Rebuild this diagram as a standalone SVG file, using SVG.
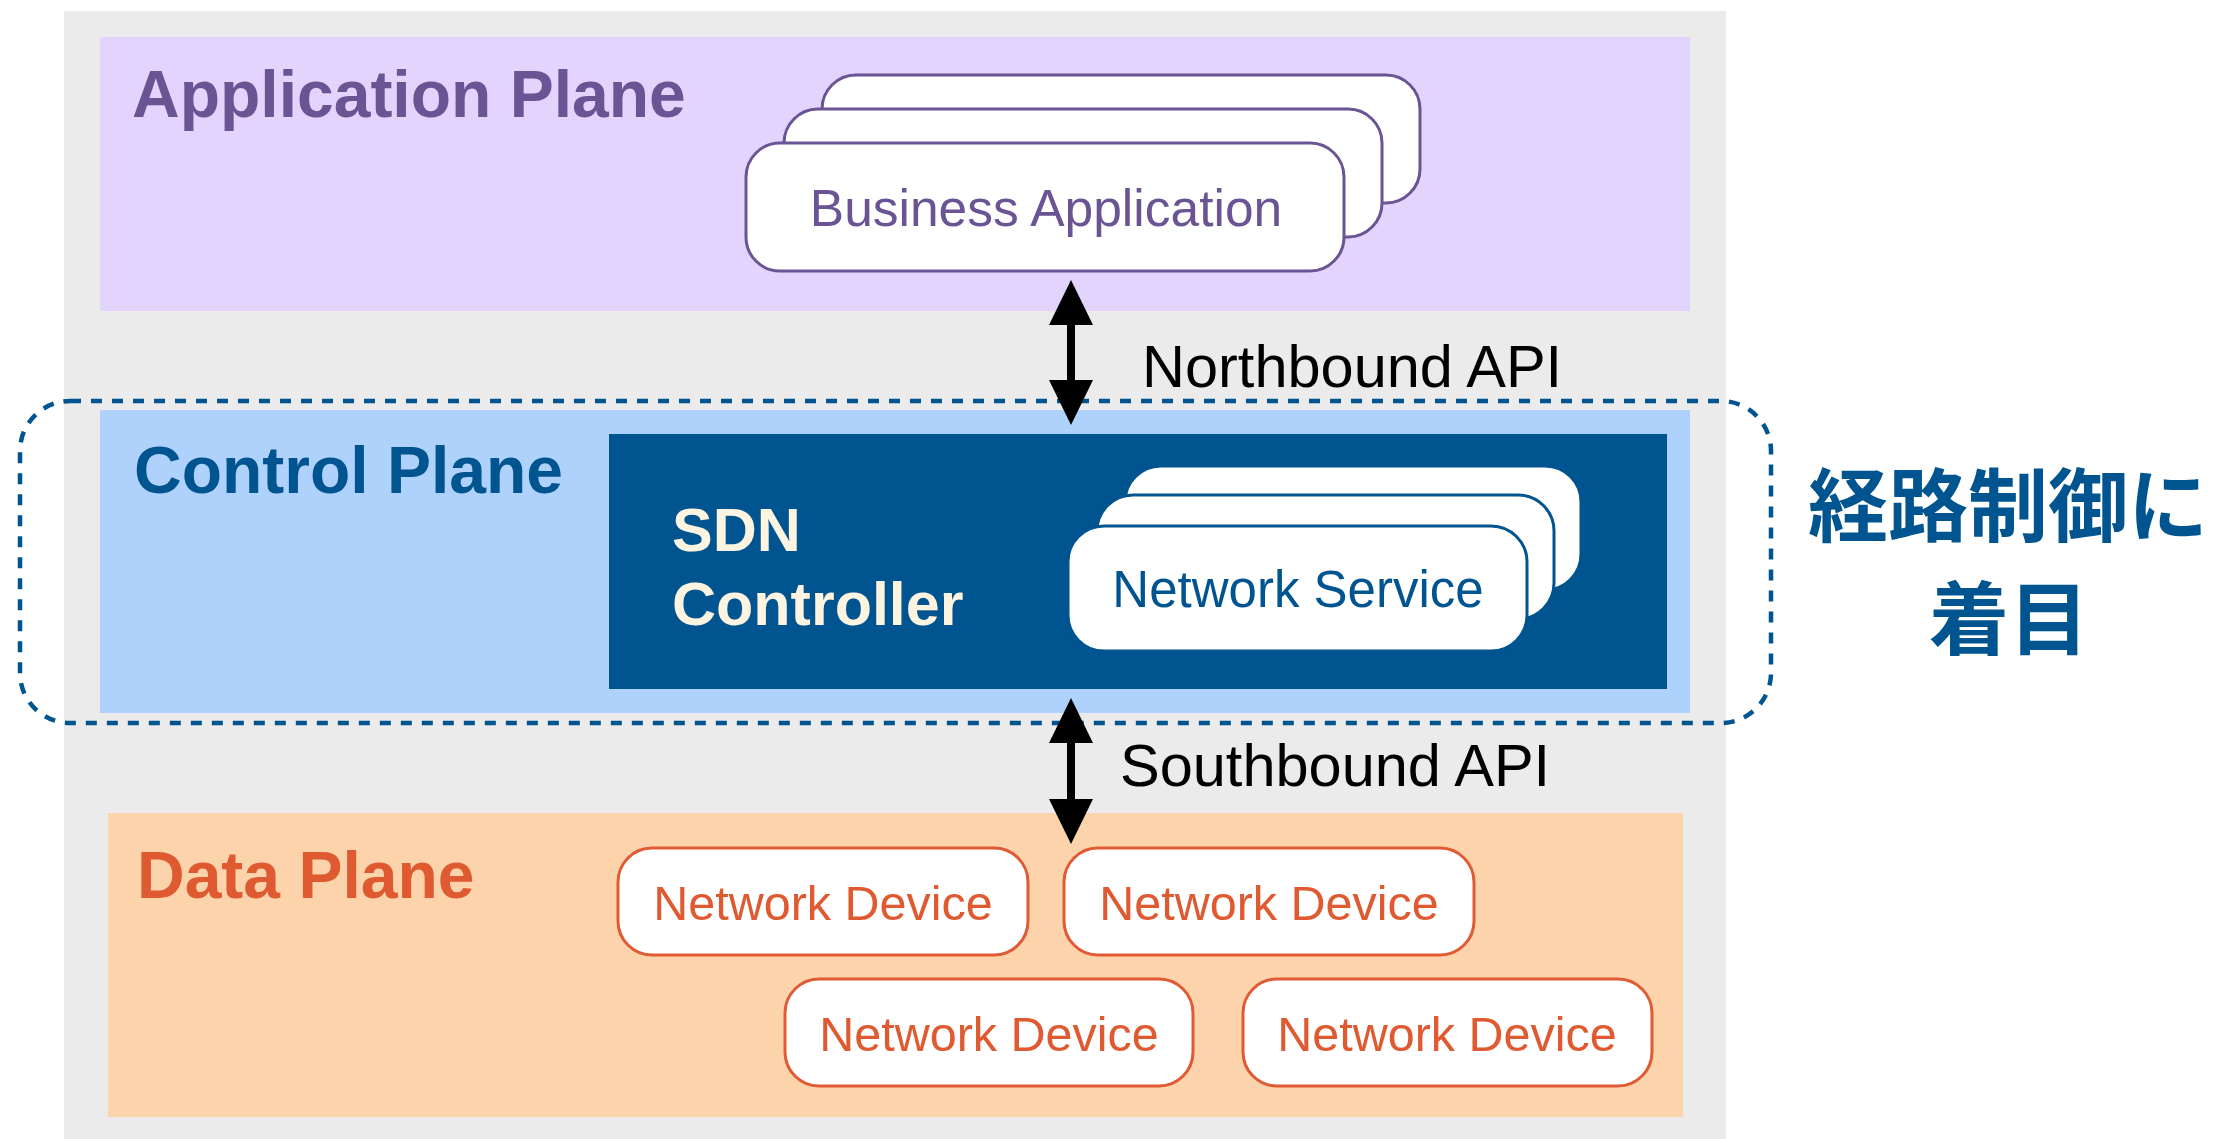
<svg xmlns="http://www.w3.org/2000/svg" width="2231" height="1139" viewBox="0 0 2231 1139">
  <style>
    .title { font-family: "Liberation Sans", Arial, sans-serif; font-weight: bold; font-size: 66px; }
    .label { font-family: "Liberation Sans", Arial, sans-serif; }
    .api { font-family: "Liberation Sans", Arial, sans-serif; font-size: 59.5px; fill: #000; }
    .app-box { fill: #fff; stroke: #6a5494; stroke-width: 3; }
    .svc-box { fill: #fff; stroke: #00548f; stroke-width: 3; }
    .dev-box { fill: #fff; stroke: #e05a33; stroke-width: 3; }
    .dev-text { font-family: "Liberation Sans", Arial, sans-serif; font-size: 48.5px; fill: #df5a31; text-anchor: middle; }
    .focus { fill: none; stroke: #00548f; stroke-width: 4.5; stroke-dasharray: 11 10; }
    .api-arrow { stroke: #000; stroke-width: 8; fill: none; marker-start: url(#head); marker-end: url(#head); }
    .note { font-family: "Noto Sans CJK JP", "Noto Sans CJK SC", sans-serif; font-weight: bold; font-size: 80px; fill: #00548f; text-anchor: middle; }
  </style>
  <defs>
    <marker id="head" markerUnits="userSpaceOnUse" markerWidth="45" markerHeight="44" viewBox="0 0 45 44" refX="0" refY="22" orient="auto-start-reverse">
      <path d="M0,0 L45,22 L0,44 Z" fill="#000"/>
    </marker>
  </defs>

  <!-- canvas -->
  <rect x="0" y="0" width="2231" height="1139" fill="#ffffff"/>
  <rect x="64" y="11" width="1662" height="1128" fill="#ebebeb"/>

  <!-- application plane -->
  <g id="application-plane">
    <rect x="100" y="37" width="1590" height="274" fill="#e2d4fd"/>
    <text class="title" x="132" y="117" fill="#6a5494">Application Plane</text>
  </g>
  <g id="business-application">
    <rect class="app-box" x="822" y="75" width="598" height="128" rx="34"/>
    <rect class="app-box" x="784" y="109" width="598" height="128" rx="34"/>
    <rect class="app-box" x="746" y="143" width="598" height="128" rx="34"/>
    <text class="label" x="1046" y="226" font-size="51.5" fill="#6a5494" text-anchor="middle">Business Application</text>
  </g>

  <!-- control plane -->
  <g id="control-plane">
    <rect x="100" y="410" width="1590" height="303" fill="#afd2fc"/>
    <text class="title" x="134" y="493" fill="#00548f">Control Plane</text>
  </g>
  <g id="sdn-controller">
    <rect x="609" y="434" width="1058" height="255" fill="#00548f"/>
    <text class="label" font-weight="bold" font-size="61" fill="#fdf3e1">
      <tspan x="672" y="551">SDN</tspan>
      <tspan x="672" y="625">Controller</tspan>
    </text>
  </g>
  <g id="network-service">
    <rect class="svc-box" x="1125" y="466" width="456" height="124" rx="36"/>
    <rect class="svc-box" x="1097" y="495" width="457" height="124" rx="36"/>
    <rect class="svc-box" x="1068" y="526" width="459" height="125" rx="36"/>
    <text class="label" x="1298" y="607" font-size="51" fill="#00548f" text-anchor="middle">Network Service</text>
  </g>

  <!-- data plane -->
  <g id="data-plane">
    <rect x="108" y="813" width="1575" height="304" fill="#fdd3ac"/>
    <text class="title" x="137" y="898" font-size="67.5" fill="#df5a31">Data Plane</text>
  </g>
  <g id="network-device-1">
    <rect class="dev-box" x="618" y="848" width="410" height="107" rx="34"/>
    <text class="dev-text" x="823" y="920">Network Device</text>
  </g>
  <g id="network-device-2">
    <rect class="dev-box" x="1064" y="848" width="410" height="107" rx="34"/>
    <text class="dev-text" x="1269" y="920">Network Device</text>
  </g>
  <g id="network-device-3">
    <rect class="dev-box" x="785" y="979" width="408" height="107" rx="34"/>
    <text class="dev-text" x="989" y="1051">Network Device</text>
  </g>
  <g id="network-device-4">
    <rect class="dev-box" x="1243" y="979" width="409" height="107" rx="34"/>
    <text class="dev-text" x="1447" y="1051">Network Device</text>
  </g>

  <!-- focus outline around the control plane -->
  <g id="focus-area">
    <rect class="focus" x="20" y="401" width="1751" height="322" rx="50"/>
    <text class="note">
      <tspan x="2017" y="535">経路制御に</tspan>
      <tspan x="2009" y="648">着目</tspan>
    </text>
  </g>

  <!-- API connectors -->
  <g id="connectors">
    <line class="api-arrow" x1="1071" y1="325" x2="1071" y2="380"/>
    <text class="api" x="1142" y="387">Northbound API</text>
    <line class="api-arrow" x1="1071" y1="743" x2="1071" y2="799"/>
    <text class="api" x="1120" y="786">Southbound API</text>
  </g>
</svg>
